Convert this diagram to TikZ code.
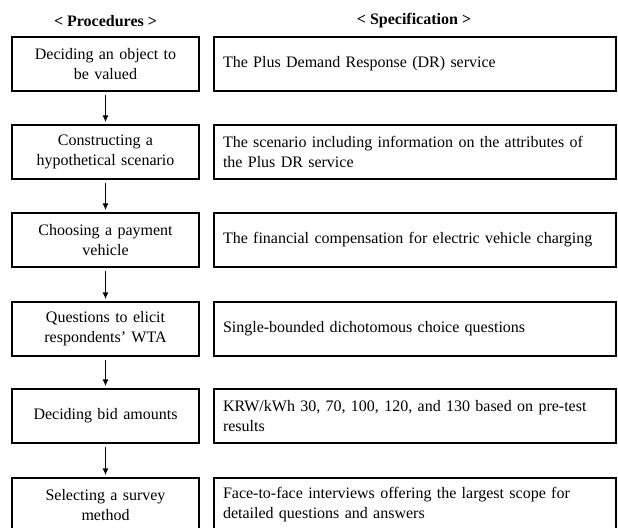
\documentclass[tikz,border=0pt]{standalone}
\usepackage{fontspec}
\setmainfont{Liberation Serif}
\usetikzlibrary{arrows.meta}

\tikzset{
  procbox/.style={draw, line width=1.3pt, minimum width=140pt, minimum height=40.5pt,
    text width=132pt, align=center, inner sep=0pt, font=\fontsize{12}{15}\selectfont},
  specbox/.style={draw, line width=1.3pt, minimum width=301.5pt, minimum height=40.5pt,
    text width=288pt, align=left, inner sep=0pt, font=\fontsize{12}{15}\selectfont},
  head/.style={font=\fontsize{12}{14}\selectfont\bfseries},
  flow/.style={-{Latex[length=5pt,width=4.5pt]}, line width=0.9pt, shorten <=2.5pt, shorten >=1.5pt}
}

\begin{document}
\begin{tikzpicture}[x=0.75pt,y=-0.75pt]
\useasboundingbox (0,0) rectangle (618,528);

\node[head] (phead) at (105.5,21) {< Procedures >};
\node[head] (shead) at (414,21) {< Specification >};

\node[procbox] (proc1) at (105.5,64) {Deciding an object to\\be valued};
\node[procbox] (proc2) at (105.5,152) {Constructing a\\hypothetical scenario};
\node[procbox] (proc3) at (105.5,240) {Choosing a payment\\vehicle};
\node[procbox] (proc4) at (105.5,329) {Questions to elicit\\respondents’ WTA};
\node[procbox] (proc5) at (105.5,416) {Deciding bid amounts};
\node[procbox] (proc6) at (105.5,505) {Selecting a survey\\method};

\node[specbox] (spec1) at (415,64) {The Plus Demand Response (DR) service};
\node[specbox] (spec2) at (415,152) {The scenario including information on the attributes of\\the Plus DR service};
\node[specbox] (spec3) at (415,240) {The financial compensation for electric vehicle charging};
\node[specbox] (spec4) at (415,329) {Single-bounded dichotomous choice questions};
\node[specbox] (spec5) at (415,416) {KRW/kWh 30, 70, 100, 120, and 130 based on pre-test\\results};
\node[specbox] (spec6) at (415,505) {Face-to-face interviews offering the largest scope for\\detailed questions and answers};

\draw[flow] (proc1) -- (proc2);
\draw[flow] (proc2) -- (proc3);
\draw[flow] (proc3) -- (proc4);
\draw[flow] (proc4) -- (proc5);
\draw[flow] (proc5) -- (proc6);
\end{tikzpicture}
\end{document}
